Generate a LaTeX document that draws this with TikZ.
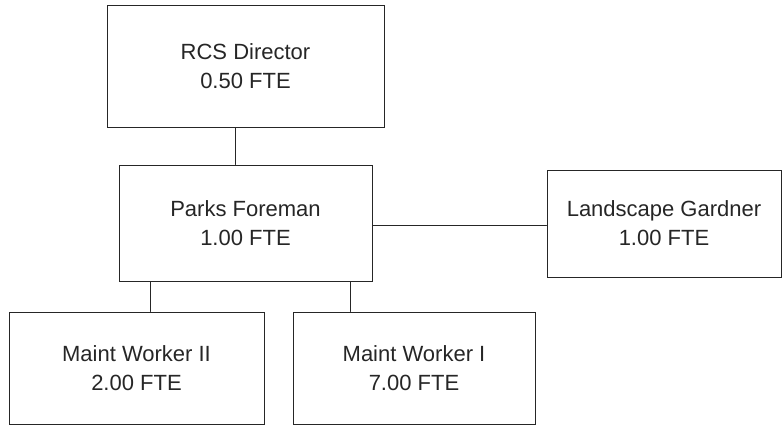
\documentclass[tikz,border=0pt]{standalone}
\usepackage{fontspec}
\setmainfont{Liberation Sans}
\usepackage{tikz}

\begin{document}
\begin{tikzpicture}[x=1pt,y=-1pt,line cap=round,
  rolebox/.style={draw=black!85,line width=1pt,align=center,inner sep=0pt,
    text=black!85,font=\fontsize{22}{29}\selectfont},
  link/.style={draw=black!85,line width=1pt}]
\useasboundingbox (0,0) rectangle (782,426);
\node[rolebox,minimum width=277pt,minimum height=122pt] (dir) at (245.5,66) {RCS Director\\0.50 FTE};
\node[rolebox,minimum width=253pt,minimum height=116pt] (fore) at (245.5,223) {Parks Foreman\\1.00 FTE};
\node[rolebox,minimum width=234pt,minimum height=107pt] (gard) at (664,223.5) {Landscape Gardner\\1.00 FTE};
\node[rolebox,minimum width=255pt,minimum height=112pt] (mwtwo) at (136.5,368) {Maint Worker II\\2.00 FTE};
\node[rolebox,minimum width=242pt,minimum height=112pt] (mwone) at (414,368) {Maint Worker I\\7.00 FTE};
\draw[link] ([xshift=-10pt]dir.south) -- ([xshift=-10pt]fore.north);
\draw[link] ([yshift=-2pt]fore.east) -- ([yshift=-2pt]fore.east -| gard.west);
\draw[link] ([xshift=13.5pt]mwtwo.north) -- ([xshift=13.5pt]mwtwo.north |- fore.south);
\draw[link] ([xshift=-64pt]mwone.north) -- ([xshift=-64pt]mwone.north |- fore.south);
\end{tikzpicture}
\end{document}
